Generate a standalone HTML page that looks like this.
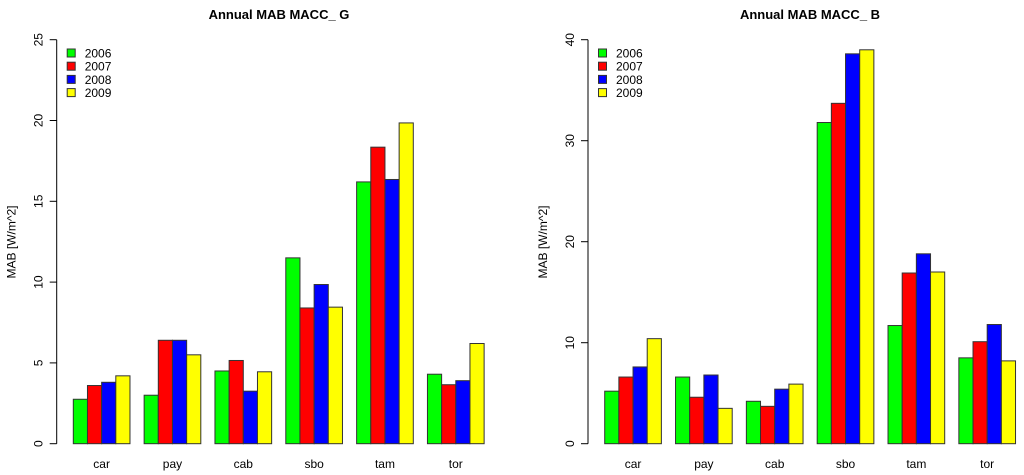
<!DOCTYPE html>
<html><head><meta charset="utf-8"><style>
html,body{margin:0;padding:0;background:#fff;}
svg{display:block;font-family:"Liberation Sans",Arial,sans-serif;}
</style></head><body>
<svg id="chart" width="1024" height="475" viewBox="0 0 1024 475" xmlns="http://www.w3.org/2000/svg"></svg>
<script>
const categories = ["car","pay","cab","sbo","tam","tor"];
const years = ["2006","2007","2008","2009"];
const colors = ["#00ff00","#ff0000","#0000ff","#ffff00"];
const seriesG2006 = [2.75,3.0,4.5,11.5,16.2,4.3];
const seriesG2007 = [3.6,6.4,5.15,8.4,18.35,3.65];
const seriesG2008 = [3.8,6.4,3.25,9.85,16.35,3.9];
const seriesG2009 = [4.2,5.5,4.45,8.45,19.85,6.2];
const seriesB2006 = [5.2,6.6,4.2,31.8,11.7,8.5];
const seriesB2007 = [6.6,4.6,3.7,33.7,16.9,10.1];
const seriesB2008 = [7.6,6.8,5.4,38.6,18.8,11.8];
const seriesB2009 = [10.4,3.5,5.9,39.0,17.0,8.2];
const ticksG = [0,5,10,15,20,25];
const ticksB = [0,10,20,30,40];

const NS = "http://www.w3.org/2000/svg";
const svg = document.getElementById("chart");
function mk(tag, attrs, parent){
  const e = document.createElementNS(NS, tag);
  for (const k in attrs) e.setAttribute(k, attrs[k]);
  (parent||svg).appendChild(e);
  return e;
}
function panel(cfg){
  const g = mk("g", {});
  
  
  const y0 = 443.7, y1 = 39.7;
  const yScale = v => y0 - (v / cfg.max) * (y0 - y1);
  const barW = 14.17, step = 70.83;
  const xBar = (ci, si) => cfg.x0 + ci * step + si * barW;

  const t = mk("text", {x: cfg.titleX, y: 19, "text-anchor": "middle", "font-size": 13, "font-weight": "bold", fill: "#000"}, g);
  t.textContent = cfg.title;
  
  

  const ax = mk("line", {x1: cfg.axisX, x2: cfg.axisX, y1: yScale(0), y2: yScale(cfg.max), stroke: "#000", "stroke-width": 1}, g);
  
  
  cfg.ticks.forEach(v => {
    const y = yScale(v);
    const tk = mk("line", {x1: cfg.axisX - 7, x2: cfg.axisX, y1: y, y2: y, stroke: "#000", "stroke-width": 1}, g);
    
    
    const lx = cfg.axisX - 18;
    const lb = mk("text", {x: lx, y: y, "text-anchor": "middle", "dominant-baseline": "central", "font-size": 12, fill: "#000", transform: `rotate(-90 ${lx} ${y})`}, g);
    lb.textContent = String(v);
    
    
  });
  const yl = cfg.axisX - 45, ym = 242;
  const ylab = mk("text", {x: yl, y: ym, "text-anchor": "middle", "dominant-baseline": "central", "font-size": 12, fill: "#000", transform: `rotate(-90 ${yl} ${ym})`}, g);
  ylab.textContent = "MAB [W/m^2]";
  
  

  cfg.series.forEach((s, si) => {
    s.forEach((v, ci) => {
      const y = yScale(v);
      const r = mk("rect", {x: xBar(ci, si), y: y, width: barW, height: yScale(0) - y, fill: colors[si], stroke: "#333", "stroke-width": 1}, g);
      
      
    });
  });
  categories.forEach((c, ci) => {
    const cx = xBar(ci, 2);
    const lb = mk("text", {x: cx, y: 468, "text-anchor": "middle", "font-size": 12, fill: "#000"}, g);
    lb.textContent = c;
    
    
  });
  years.forEach((yr, i) => {
    const ly = 53 + i * 13.2;
    const sq = mk("rect", {x: cfg.axisX + 10.5, y: ly - 4, width: 8, height: 8, fill: colors[i], stroke: "#333", "stroke-width": 1}, g);
    
    
    const lt = mk("text", {x: cfg.axisX + 28, y: ly + 4.5, "font-size": 12, fill: "#000"}, g);
    lt.textContent = yr;
    
    
  });
}
panel({name: "chart-macc-g", title: "Annual MAB MACC_ G", titleX: 279, axisX: 56.7, x0: 73.3, max: 25, ticks: ticksG,
  series: [seriesG2006, seriesG2007, seriesG2008, seriesG2009]});
panel({name: "chart-macc-b", title: "Annual MAB MACC_ B", titleX: 810, axisX: 588, x0: 604.7, max: 40, ticks: ticksB,
  series: [seriesB2006, seriesB2007, seriesB2008, seriesB2009]});
</script>
</body></html>
